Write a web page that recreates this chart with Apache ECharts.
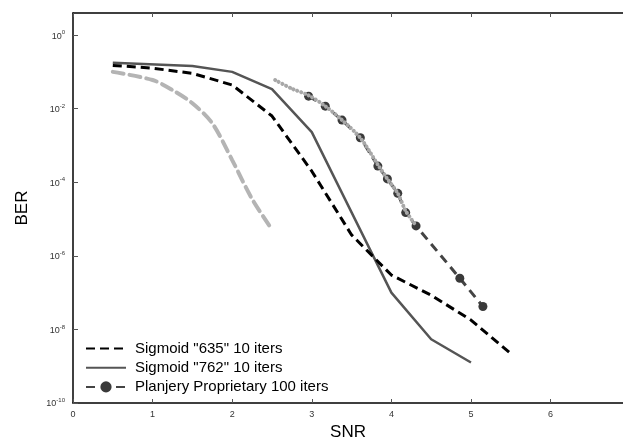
<!DOCTYPE html>
<html>
<head>
<meta charset="utf-8">
<script src="https://cdn.jsdelivr.net/npm/echarts@6/dist/echarts.min.js"></script>
<style>
  html, body { margin: 0; padding: 0; background: #fff; }
  #chart { width: 623px; height: 437px; }
</style>
</head>
<body>
<div id="chart"></div>
<script>
// SNR / BER curves
const snr635 = [0.5, 1, 1.5, 2, 2.5, 3, 3.5, 4, 4.5, 5, 5.5]
const ber635 = [1.5e-1, 1.26e-1, 9.1e-2, 4.4e-2, 6.3e-3, 2.0e-4, 3.7e-6, 3.0e-7, 8.5e-8, 1.8e-8, 2.2e-9]

const snr762 = [0.5, 1.5, 2, 2.5, 3, 4, 4.5, 5]
const ber762 = [1.78e-1, 1.45e-1, 1.0e-1, 3.4e-2, 2.3e-3, 1.0e-7, 5.4e-9, 1.26e-9]

const snrPlanjery = [2.96, 3.17, 3.38, 3.61, 3.83, 3.95, 4.08, 4.18, 4.31, 4.86, 5.15]
const berPlanjery = [2.19e-2, 1.17e-2, 4.9e-3, 1.62e-3, 2.75e-4, 1.23e-4, 5.0e-5, 1.5e-5, 6.5e-6, 2.45e-7, 4.2e-8]

// curves without a legend entry
const snrGrey = [0.5, 1, 1.25, 1.5, 1.75, 2, 2.25, 2.5]
const berGrey = [1.0e-1, 6.0e-2, 3.2e-2, 1.4e-2, 4.0e-3, 4.0e-4, 3.5e-5, 5.2e-6]

const snrFit = [2.54, 2.75, 2.96, 3.17, 3.38, 3.61, 3.83, 3.95, 4.08, 4.18, 4.3]
const berFit = [6.0e-2, 3.5e-2, 2.3e-2, 1.17e-2, 4.9e-3, 1.6e-3, 3.0e-4, 1.23e-4, 5.0e-5, 1.66e-5, 7.1e-6]

const legendNames = ['Sigmoid "635" 10 iters', 'Sigmoid "762" 10 iters', 'Planjery Proprietary 100 iters']

const zip = (xs, ys) => xs.map((x, i) => [x, ys[i]])

const chart = echarts.init(document.getElementById('chart'))

const xBase = {
  type: 'value',
  min: 0,
  max: 6.91,
  interval: 1,
  splitLine: { show: false },
  axisLine: { lineStyle: { color: '#000', width: 1.5 } },
  axisTick: { inside: true, length: 4, lineStyle: { color: '#555' } }
}

const option = {
  animation: false,
  backgroundColor: '#fff',
  grid: { left: 73, right: 0, top: 13, bottom: 34, outerBoundsMode: 'none' },
  legend: {
    data: [
      { name: legendNames[0], itemStyle: { opacity: 0 } },
      { name: legendNames[1], itemStyle: { opacity: 0 } },
      { name: legendNames[2] }
    ],
    orient: 'vertical',
    left: 80,
    top: 336,
    itemWidth: 40,
    itemHeight: 14,
    itemGap: 4.2,
    textStyle: { fontFamily: 'Liberation Sans', fontSize: 15, lineHeight: 15, color: '#000', padding: [0, 0, 0, 4] }
  },
  xAxis: [
    Object.assign({}, xBase, {
      position: 'bottom',
      name: 'SNR',
      nameLocation: 'middle',
      nameGap: 15,
      nameTextStyle: { fontFamily: 'Liberation Sans', fontSize: 17, color: '#000' },
      axisLabel: {
        showMaxLabel: false,
        fontFamily: 'Liberation Sans',
        fontSize: 9,
        color: '#333',
        margin: 7
      }
    }),
    Object.assign({}, xBase, {
      position: 'top',
      axisLabel: { show: false }
    })
  ],
  yAxis: {
    type: 'log',
    logBase: 10,
    min: 1e-10,
    max: Math.pow(10, 0.6),
    interval: 2,
    name: 'BER',
    nameLocation: 'middle',
    nameGap: 42,
    nameRotate: 90,
    nameTextStyle: { fontFamily: 'Liberation Sans', fontSize: 17, color: '#000' },
    splitLine: { show: false },
    axisLine: { show: true, lineStyle: { color: '#000', width: 1.5 } },
    axisTick: { inside: true, length: 5, lineStyle: { color: '#555' } },
    axisLabel: {
      showMaxLabel: false,
      margin: 8,
      formatter: function (v) {
        const e = Math.round(Math.log10(v))
        return '{b|10}{e|' + e + '}'
      },
      rich: {
        b: { fontFamily: 'Liberation Sans', fontSize: 9, color: '#333', lineHeight: 11, verticalAlign: 'bottom' },
        e: { fontFamily: 'Liberation Sans', fontSize: 6, color: '#333', lineHeight: 11, verticalAlign: 'top' }
      }
    }
  },
  series: [
    {
      name: legendNames[0],
      type: 'line',
      data: zip(snr635, ber635),
      symbol: 'none',
      lineStyle: { color: '#000', width: 3, type: [9, 5] },
      itemStyle: { color: '#000' },
      z: 3
    },
    {
      name: legendNames[1],
      type: 'line',
      data: zip(snr762, ber762),
      symbol: 'none',
      lineStyle: { color: '#555', width: 2.5 },
      itemStyle: { color: '#555' },
      z: 2
    },
    {
      name: 'grey',
      type: 'line',
      data: zip(snrGrey, berGrey),
      symbol: 'none',
      smooth: 0.3,
      lineStyle: { color: '#b4b4b4', width: 4, type: [11, 6], cap: 'round' },
      z: 2
    },
    {
      name: legendNames[2],
      type: 'line',
      data: zip(snrPlanjery, berPlanjery),
      symbol: 'circle',
      symbolSize: 9,
      lineStyle: { color: '#444', width: 3, type: [9, 6] },
      itemStyle: { color: '#3a3a3a' },
      z: 3
    },
    {
      name: 'fit',
      type: 'line',
      data: zip(snrFit, berFit),
      symbol: 'none',
      smooth: 0.3,
      lineStyle: { color: '#a8a8a8', width: 4, type: [0.1, 4], cap: 'round' },
      z: 4
    }
  ]
}

chart.setOption(option)
</script>
</body>
</html>
